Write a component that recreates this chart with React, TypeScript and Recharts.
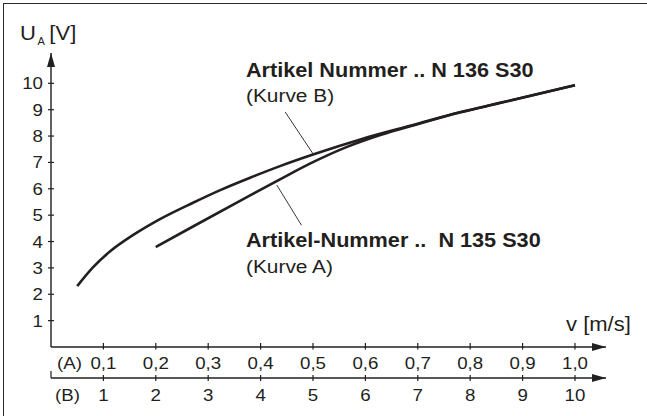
import React from 'react';
import { LineChart, Line, XAxis, YAxis, ReferenceLine, ReferenceDot } from 'recharts';

// Kurve A: Artikel-Nummer N 135 S30
const speedA = [0.2, 0.271, 0.366, 0.437, 0.5, 0.565, 0.63, 0.691, 0.78, 0.857, 1.0];
const voltageA = [3.79, 4.57, 5.6, 6.36, 7.01, 7.59, 8.05, 8.4, 8.89, 9.25, 9.93];

// Kurve B: Artikel Nummer N 136 S30
const speedB = [0.05, 0.08, 0.113, 0.157, 0.208, 0.271, 0.323, 0.38, 0.437, 0.5, 0.595, 0.691, 0.78, 0.857, 1.0];
const voltageB = [2.31, 3.02, 3.63, 4.25, 4.85, 5.47, 5.95, 6.42, 6.86, 7.3, 7.9, 8.42, 8.9, 9.26, 9.93];

const ticksA = [0, 0.1, 0.2, 0.3, 0.4, 0.5, 0.6, 0.7, 0.8, 0.9, 1.0];
const ticksB = [0, 1, 2, 3, 4, 5, 6, 7, 8, 9, 10];
const ticksY = [1, 2, 3, 4, 5, 6, 7, 8, 9, 10];
const scaleLabelA = '(A)';
const scaleLabelB = '(B)';
const yTitleMain = 'U';
const yTitleSub = 'A';
const yTitleUnit = '[V]';
const xTitle = 'v [m/s]';

const labelTexts = [
  { x: 0.372, y: 10.24, text: 'Artikel Nummer .. N 136 S30', bold: true },
  { x: 0.372, y: 9.29, text: '(Kurve B)', bold: false },
  { x: 0.372, y: 3.8, text: 'Artikel-Nummer ..  N 135 S30', bold: true },
  { x: 0.372, y: 2.79, text: '(Kurve A)', bold: false },
];
const leaderB = [{ x: 0.447, y: 8.91 }, { x: 0.5, y: 7.33 }];
const leaderA = [{ x: 0.431, y: 6.14 }, { x: 0.478, y: 4.62 }];
const yTitlePos = { x: -0.059, y: 11.63 };
const xTitlePos = { x: 0.983, y: 0.6 };

const dataA = speedA.map((v, i) => ({ v, u: voltageA[i] }));
const dataB = speedB.map((v, i) => ({ v, u: voltageB[i] }));

const INK = '#231f20';
const FONT = '"Liberation Sans", Arial, Helvetica, sans-serif';
const SX = 1.1;

const fmtA = (v: number) => v.toFixed(1).replace('.', ',');

const TickA = (props: any) => {
  const { x, y, payload } = props;
  const v = payload.value;
  if (v === 0) {
    return (
      <text transform={`translate(${x + 6} ${y + 21.5}) scale(${SX} 1)`} fontSize={17} fontFamily={FONT} fill={INK} textAnchor="start">
        {scaleLabelA}
      </text>
    );
  }
  return (
    <g>
      <line x1={x} x2={x} y1={y - 4} y2={y + 2.5} stroke={INK} strokeWidth={1.2} />
      <text transform={`translate(${x} ${y + 21.5}) scale(${SX} 1)`} fontSize={17} fontFamily={FONT} fill={INK} textAnchor="middle">
        {fmtA(v)}
      </text>
    </g>
  );
};

const TickB = (props: any) => {
  const { x, y, payload } = props;
  const v = payload.value;
  if (v === 0) {
    return (
      <g>
        <line x1={x} x2={x} y1={y - 7} y2={y} stroke={INK} strokeWidth={1.2} />
        <text transform={`translate(${x + 4} ${y + 23}) scale(${SX} 1)`} fontSize={17} fontFamily={FONT} fill={INK} textAnchor="start">
          {scaleLabelB}
        </text>
      </g>
    );
  }
  return (
    <g>
      <line x1={x} x2={x} y1={y - 3} y2={y + 3} stroke={INK} strokeWidth={1.2} />
      <text transform={`translate(${x} ${y + 23}) scale(${SX} 1)`} fontSize={17} fontFamily={FONT} fill={INK} textAnchor="middle">
        {String(v)}
      </text>
    </g>
  );
};

const TickY = (props: any) => {
  const { x, y, payload } = props;
  return (
    <g>
      <line x1={x - 3} x2={x + 3} y1={y} y2={y} stroke={INK} strokeWidth={1.2} />
      <text transform={`translate(${x - 8} ${y + 6}) scale(${SX} 1)`} fontSize={17} fontFamily={FONT} fill={INK} textAnchor="end">
        {String(payload.value)}
      </text>
    </g>
  );
};

const makeTextShape = (text: string, bold: boolean, size: number) => (p: any) => (
  <text
    transform={`translate(${p.cx} ${p.cy}) scale(${SX} 1)`}
    fontSize={size}
    fontWeight={bold ? 'bold' : 'normal'}
    fontFamily={FONT}
    fill={INK}
    textAnchor="start"
    style={{ whiteSpace: 'pre' }}
  >
    {text}
  </text>
);

const yTitleShape = (p: any) => (
  <text transform={`translate(${p.cx} ${p.cy}) scale(${SX} 1)`} fontSize={20} fontFamily={FONT} fill={INK}>
    <tspan>{yTitleMain}</tspan>
    <tspan fontSize={10} dx={1.5} dy={4.3}>{yTitleSub}</tspan>
    <tspan dx={4} dy={-4.3}>{yTitleUnit}</tspan>
  </text>
);

export default function App() {
  const axisLineX = { stroke: INK, strokeWidth: 1.4, markerEnd: 'url(#arrowHead)' } as any;
  const axisLineY = { stroke: INK, strokeWidth: 1.4, markerStart: 'url(#arrowHead)' } as any;
  return (
    <div style={{ position: 'absolute', left: 0, top: 0, width: 647, height: 416, overflow: 'hidden', background: '#fff' }}>
      <div style={{ position: 'absolute', left: 3.3, top: 3.3, width: 700, height: 500, borderLeft: `1.4px solid #2a2a2a`, borderTop: `1.4px solid #2a2a2a` }} />
      <svg width={0} height={0} style={{ position: 'absolute' }}>
        <defs>
          <marker id="arrowHead" viewBox="0 0 14 8" refX={14} refY={4} markerWidth={14} markerHeight={8} markerUnits="userSpaceOnUse" orient="auto-start-reverse">
            <path d="M0,0 L14,4 L0,8 z" fill={INK} />
          </marker>
        </defs>
      </svg>
      <div style={{ position: 'absolute', left: 0, top: 0 }}>
        <LineChart width={647} height={416} margin={{ top: 53, left: 11, right: 41, bottom: 8 }}>
          <XAxis xAxisId="A" type="number" dataKey="v" domain={[0, 1.0592]} ticks={ticksA} interval={0} allowDataOverflow
            height={31} tickSize={0} tickMargin={0} tickLine={false} axisLine={axisLineX} tick={<TickA />} />
          <XAxis xAxisId="B" type="number" dataKey="v" domain={[0, 10.592]} ticks={ticksB} interval={0} allowDataOverflow
            height={30} tickSize={0} tickMargin={0} tickLine={false} axisLine={axisLineX} tick={<TickB />} />
          <YAxis yAxisId="Y" type="number" domain={[0, 11.15]} ticks={ticksY} interval={0} allowDataOverflow
            width={40} tickSize={0} tickMargin={0} tickLine={false} axisLine={axisLineY} tick={<TickY />} />
          <Line xAxisId="A" yAxisId="Y" data={dataB} dataKey="u" type="monotone" stroke={INK} strokeWidth={2.6} dot={false} activeDot={false} isAnimationActive={false} />
          <Line xAxisId="A" yAxisId="Y" data={dataA} dataKey="u" type="monotone" stroke={INK} strokeWidth={2.6} dot={false} activeDot={false} isAnimationActive={false} />
          <ReferenceLine xAxisId="A" yAxisId="Y" segment={leaderB} stroke={INK} strokeWidth={0.9} ifOverflow="visible" />
          <ReferenceLine xAxisId="A" yAxisId="Y" segment={leaderA} stroke={INK} strokeWidth={0.9} ifOverflow="visible" />
          {labelTexts.map((l, i) => (
            <ReferenceDot key={i} xAxisId="A" yAxisId="Y" x={l.x} y={l.y} r={1} ifOverflow="visible"
              shape={makeTextShape(l.text, l.bold, l.bold ? 19.7 : 19)} />
          ))}
          <ReferenceDot xAxisId="A" yAxisId="Y" x={yTitlePos.x} y={yTitlePos.y} r={1} ifOverflow="visible" shape={yTitleShape} />
          <ReferenceDot xAxisId="A" yAxisId="Y" x={xTitlePos.x} y={xTitlePos.y} r={1} ifOverflow="visible"
            shape={makeTextShape(xTitle, false, 20)} />
        </LineChart>
      </div>
    </div>
  );
}
